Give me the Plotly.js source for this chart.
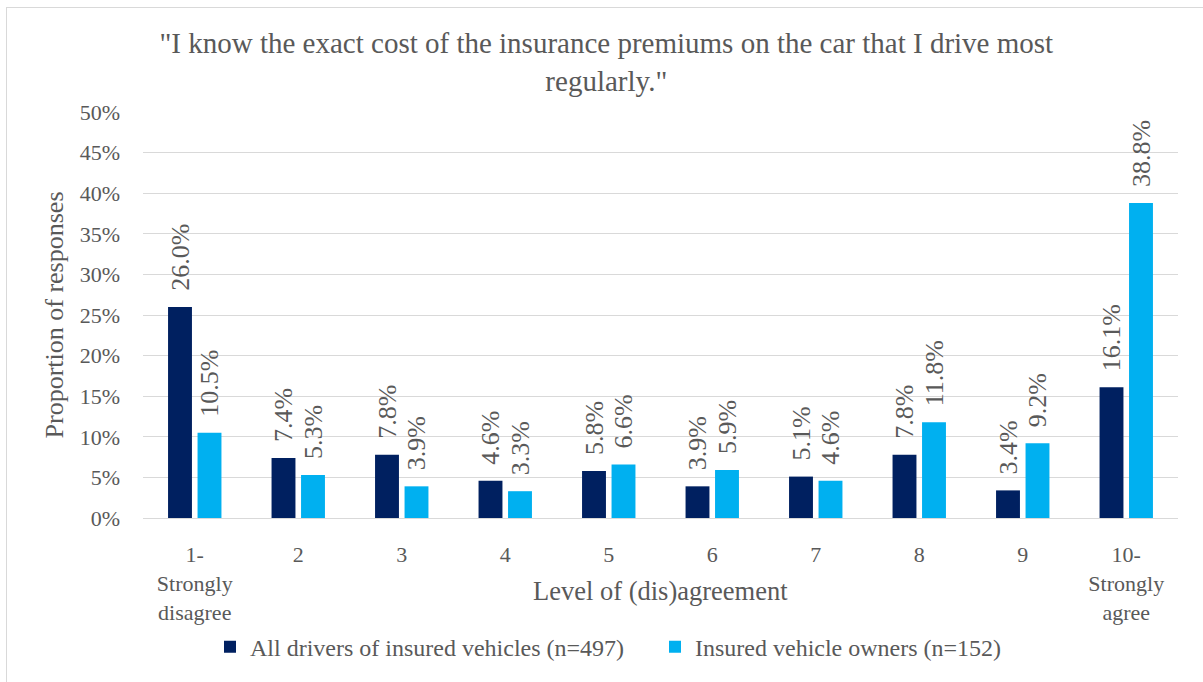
<!DOCTYPE html>
<html>
<head>
<meta charset="utf-8">
<script src="https://cdn.plot.ly/plotly-3.0.1.min.js"></script>
<style>
  html, body { margin: 0; padding: 0; overflow: hidden; background: #fff; }
  #chart { width: 1203px; height: 682px; }
  #frame { position: absolute; left: 6px; top: 7px; width: 1300px; height: 800px;
           border: 1px solid #d9d9d9; pointer-events: none; }
</style>
</head>
<body>
<div id="chart"></div>
<div id="frame"></div>
<script>
const categories = ["1-<br>Strongly<br>disagree", "2", "3", "4", "5", "6", "7", "8", "9", "10-<br>Strongly<br>agree"];
const allDrivers = [0.260, 0.074, 0.078, 0.046, 0.058, 0.039, 0.051, 0.078, 0.034, 0.161];
const owners = [0.105, 0.053, 0.039, 0.033, 0.066, 0.059, 0.046, 0.118, 0.092, 0.388];
const seriesNames = ["All drivers of insured vehicles (n=497)", "Insured vehicle owners (n=152)"];
const yTicks = [0, 0.05, 0.10, 0.15, 0.20, 0.25, 0.30, 0.35, 0.40, 0.45, 0.50];

const FONT = "Liberation Serif, Times New Roman, serif";
const GREY = "#595959";
const pad = "\u00a0\u00a0";

const traces = [
  {
    type: "bar", name: seriesNames[0], x: categories, y: allDrivers,
    marker: { color: "#002060" },
    texttemplate: pad + "%{y:.1%}", textposition: "outside", textangle: -90,
    constraintext: "none", cliponaxis: false,
    textfont: { family: FONT, size: 26, color: GREY },
    hoverinfo: "skip"
  },
  {
    type: "bar", name: seriesNames[1], x: categories, y: owners,
    marker: { color: "#00B0F0" },
    texttemplate: pad + "%{y:.1%}", textposition: "outside", textangle: -90,
    constraintext: "none", cliponaxis: false,
    textfont: { family: FONT, size: 26, color: GREY },
    hoverinfo: "skip"
  }
];

const layout = {
  width: 1203, height: 682,
  margin: { l: 143, r: 25, t: 112, b: 161 },
  paper_bgcolor: "#ffffff", plot_bgcolor: "#ffffff",
  font: { family: FONT, size: 22, color: GREY },
  barmode: "group", bargap: 0.43, bargroupgap: 0.19,
  showlegend: true,
  title: {
    text: "\"I know the exact cost of the insurance premiums on the car that I drive most<br>regularly.\"",
    font: { family: FONT, size: 29, color: GREY },
    xref: "container", x: 0.504, xanchor: "center",
    yref: "container", y: 1 - 53 / 682, yanchor: "top"
  },
  xaxis: {
    type: "category", tickvals: categories, ticktext: categories,
    showgrid: false, showline: true, linecolor: "#d9d9d9", linewidth: 1,
    ticks: "", tickfont: { family: FONT, size: 22, color: GREY },
    ticklabelstandoff: 17, zeroline: false, fixedrange: true
  },
  yaxis: {
    range: [0, 0.5], tickvals: yTicks, tickformat: ".0%",
    showgrid: true, gridcolor: "#d9d9d9", gridwidth: 1,
    zeroline: false, showline: false, ticks: "",
    tickfont: { family: FONT, size: 22, color: GREY },
    ticklabelstandoff: 22,
    title: { text: "Proportion of responses", font: { family: FONT, size: 26, color: GREY }, standoff: 8 },
    fixedrange: true
  },
  annotations: [
    {
      text: "Level of (dis)agreement", xref: "paper", yref: "paper",
      x: 0.5, y: (521 - 595) / 409, xanchor: "center", yanchor: "middle",
      showarrow: false, font: { family: FONT, size: 26.5, color: GREY }
    }
  ],
  legend: {
    orientation: "h", xref: "paper", yref: "paper",
    x: (210 - 143) / 1035, xanchor: "left",
    y: (521 - 651) / 409, yanchor: "middle",
    entrywidth: 400, entrywidthmode: "pixels",
    font: { family: FONT, size: 24, color: GREY },
    bgcolor: "rgba(0,0,0,0)"
  }
};

Plotly.newPlot("chart", traces, layout, { displayModeBar: false, staticPlot: true });
</script>
</body>
</html>
